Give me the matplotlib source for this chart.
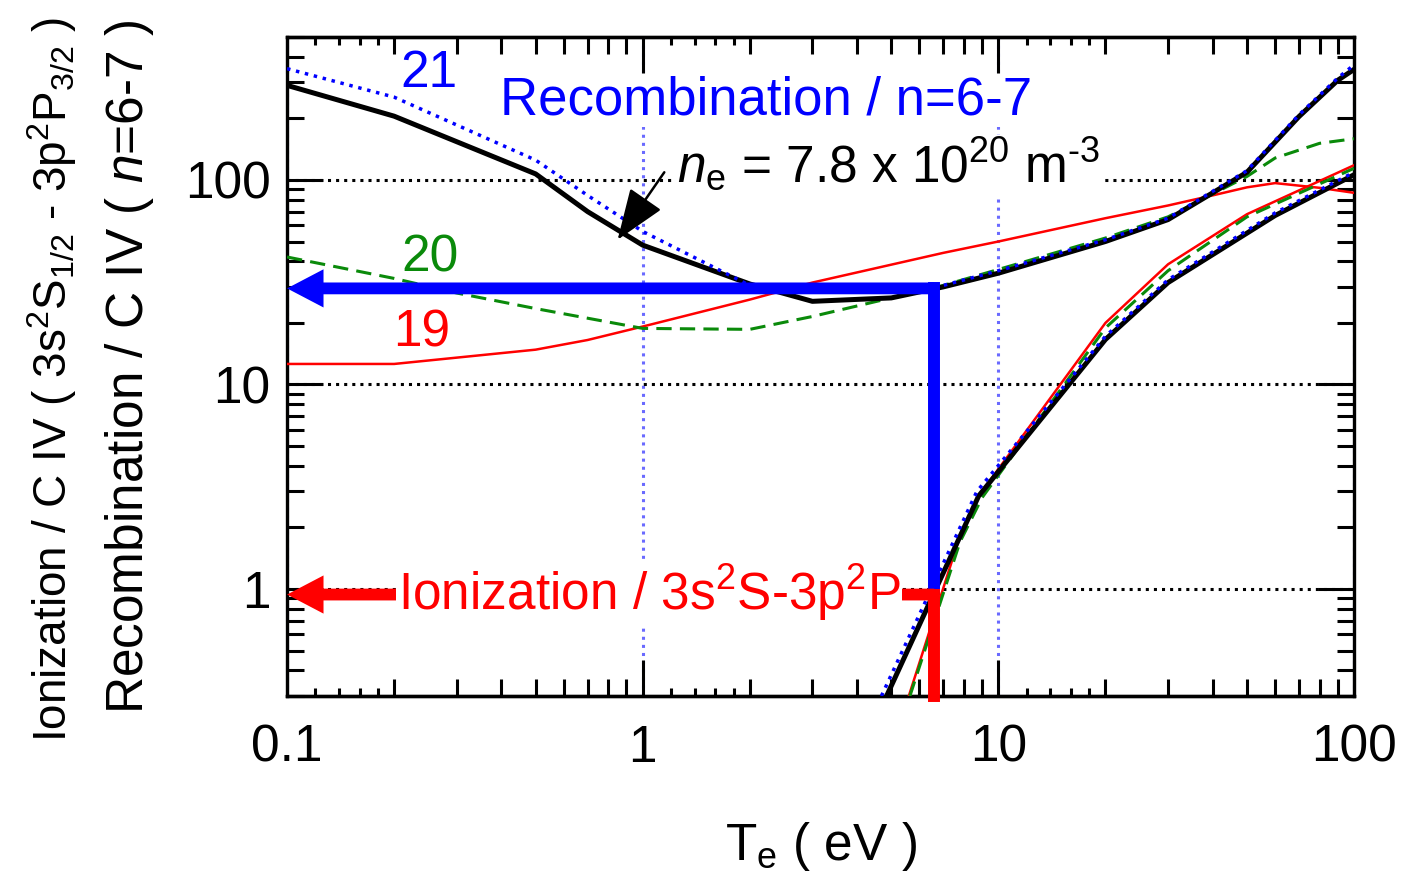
import matplotlib
matplotlib.use('Agg')
import matplotlib.pyplot as plt
from matplotlib.patches import FancyArrowPatch
from matplotlib.ticker import NullFormatter, NullLocator

plt.rcParams['font.family'] = ['Liberation Sans', 'DejaVu Sans']
plt.rcParams['mathtext.fontset'] = 'custom'
plt.rcParams['mathtext.rm'] = 'Liberation Sans'
plt.rcParams['mathtext.it'] = 'Liberation Sans:italic'

# Recombination / n=6-7 (upper set of curves)
te_rec_total = [0.1, 0.2, 0.5, 0.7, 1, 2, 3, 5, 7, 10, 20, 30, 50, 70, 90, 100]
rec_total = [290, 205, 107, 70, 48, 31, 25.5, 26.5, 30, 35, 50, 64, 109, 204, 307, 347]
te_rec_21 = [0.1, 0.2, 0.5, 0.7, 1, 2, 3, 5, 7, 10, 20, 30, 50, 70, 90, 100]
rec_21 = [350, 254, 125, 84, 56, 30.5, 29.5, 29.5, 30.5, 36, 51, 65, 111, 208, 315, 365]
te_rec_20 = [0.1, 0.2, 0.3, 0.5, 1, 2, 3, 5, 7, 10, 20, 30, 50, 60, 80, 100]
rec_20 = [42, 33, 28, 23.5, 18.8, 18.6, 21.5, 26.5, 30.5, 36.5, 52, 66, 104, 128, 151, 159]
te_rec_19 = [0.1, 0.2, 0.5, 0.7, 1, 2, 3, 7, 10, 20, 30, 40, 50, 60, 80, 100]
rec_19 = [12.6, 12.6, 14.8, 16.5, 19.2, 26, 31.5, 44, 50, 65, 75, 84, 92, 96.5, 91.5, 86.5]

# Ionization / 3s2S-3p2P (steep set of curves)
te_ion_total = [4.85, 8.8, 20, 30, 60, 100]
ion_total = [0.3, 2.85, 16.6, 31.5, 67, 106]
te_ion_21 = [4.69, 8.7, 20, 30, 60, 100]
ion_21 = [0.3, 3.0, 17.2, 32.5, 69, 109]
te_ion_20 = [5.64, 7.8, 9.0, 20, 30, 50, 100]
ion_20 = [0.3, 1.7, 2.8, 18.9, 36, 66, 114]
te_ion_19 = [5.6, 7.8, 8.8, 20, 30, 50, 100]
ion_19 = [0.3, 1.82, 2.85, 20, 38.7, 68, 118]

# read-off arrows
te_cross = 6.6
rec_level = 29.5
ion_level = 0.94
te_min, te_max = 0.1, 100
y_min, y_max = 0.3, 500

x_ticks = [0.1, 1, 10, 100]
x_labels = ['0.1', '1', '10', '100']
y_ticks = [1, 10, 100]
y_labels = ['1', '10', '100']
sub_ticks = [0.12, 0.14, 0.16, 0.18, 1.2, 1.4, 1.6, 1.8, 12, 14, 16, 18]

fig = plt.figure(figsize=(14.03, 8.80), dpi=100)
ax = fig.add_axes([0.2046, 0.2091, 0.7605, 0.7489])
ax.set_xscale('log')
ax.set_yscale('log')
ax.set_xlim(te_min, te_max)
ax.set_ylim(y_min, y_max)

# curves
for te, v in [(te_rec_19, rec_19), (te_ion_19, ion_19)]:
    ax.plot(te, v, color='#ff0000', lw=1.8, zorder=3)
for te, v in [(te_rec_20, rec_20), (te_ion_20, ion_20)]:
    ax.plot(te, v, color='#0a8a0a', lw=2.2, ls=(0, (5, 2.7)), zorder=3)
for te, v in [(te_rec_total, rec_total), (te_ion_total, ion_total)]:
    ax.plot(te, v, color='black', lw=3.6, zorder=4)
for te, v in [(te_rec_21, rec_21), (te_ion_21, ion_21)]:
    ax.plot(te, v, color='#0000ff', lw=2.5, ls=':', zorder=4.5)

# grid
ax.yaxis.grid(True, which='major', color='black', ls=':', lw=2.2)
ax.xaxis.grid(True, which='major', color='#6a6aff', ls=':', lw=2.2)
ax.set_axisbelow(True)

# ticks
ax.set_xticks(x_ticks, x_labels)
ax.set_yticks(y_ticks, y_labels)
ax.xaxis.set_minor_formatter(NullFormatter())
ax.yaxis.set_minor_formatter(NullFormatter())
ax.tick_params(which='both', direction='in', top=True, right=True, width=2.2,
               labelsize=37)
ax.tick_params(which='major', length=26)
ax.tick_params(which='minor', length=12)
ax.tick_params(axis='x', pad=20)
ax.tick_params(axis='y', pad=12)
for sp in ax.spines.values():
    sp.set_linewidth(2.4)

for loc in ['bottom', 'top']:
    sec = ax.secondary_xaxis(loc)
    sec.set_xticks(sub_ticks)
    sec.xaxis.set_minor_locator(NullLocator())
    sec.xaxis.set_major_formatter(NullFormatter())
    sec.tick_params(direction='in', length=6, width=2.2)
    sec.spines[loc].set_linewidth(2.4)

# blue: recombination read-off
blue_arrow = FancyArrowPatch((te_cross, rec_level), (te_min, rec_level),
                             arrowstyle='simple,head_length=1.05,head_width=1.1,tail_width=0.34',
                             mutation_scale=25, color='#0000ff', lw=0,
                             shrinkA=0, shrinkB=0, zorder=6)
ax.add_patch(blue_arrow)
ax.plot([te_cross, te_cross], [rec_level, 1.0], color='#0000ff', lw=8.6,
        solid_capstyle='projecting', zorder=6)

# red: ionization read-off
red_arrow = FancyArrowPatch((te_cross, ion_level), (te_min, ion_level),
                            arrowstyle='simple,head_length=1.05,head_width=1.1,tail_width=0.34',
                            mutation_scale=25, color='#ff0000', lw=0,
                            shrinkA=0, shrinkB=0, zorder=6)
ax.add_patch(red_arrow)
ax.plot([te_cross, te_cross], [ion_level, y_min], color='#ff0000', lw=8.6,
        solid_capstyle='projecting', zorder=6, clip_on=False)

# labels inside
white = dict(facecolor='white', edgecolor='none', pad=1)
ax.text(0.133, 0.945, '21', color='#0000ff', fontsize=37, ha='center', va='center',
        transform=ax.transAxes)
ax.text(0.134, 0.665, '20', color='#0a8a0a', fontsize=37, ha='center', va='center',
        transform=ax.transAxes)
ax.text(0.1265, 0.551, '19', color='#ff0000', fontsize=37, ha='center', va='center',
        transform=ax.transAxes)
ax.text(0.2, 0.904, 'Recombination / n=6-7', color='#0000ff', fontsize=38,
        ha='left', va='center', transform=ax.transAxes, bbox=white, zorder=7)
ax.text(0.3655, 0.7785, r'$\it{n}_{\rm e}$ = 7.8 x 10$^{20}$ m$^{\text{-3}}$',
        color='black', fontsize=37, ha='left', va='baseline', transform=ax.transAxes,
        bbox=white, zorder=7)
ax.text(0.104, 0.1305, r'Ionization / 3s$^2$S-3p$^2$P', color='#ff0000', fontsize=37,
        ha='left', va='baseline', transform=ax.transAxes, bbox=white, zorder=7)
ax.annotate('', xy=(0.85, 51), xytext=(1.15, 109),
            arrowprops=dict(arrowstyle='-|>,head_length=1.6,head_width=0.6',
                            mutation_scale=20, color='black', lw=1.8,
                            shrinkA=0, shrinkB=0),
            zorder=8)

ax.set_xlabel(r'T$_{\rm e}$ ( eV )', fontsize=37, labelpad=34)

fig.text(52 / 1403, 1 - 380 / 880,
         r'Ionization / C IV ( 3s$^2$S$_{1/2}$ - 3p$^2$P$_{3/2}$ )',
         rotation=90, ha='center', va='center', fontsize=33)
fig.text(130 / 1403, 1 - 367 / 880,
         r'Recombination / C IV ( $\it{n}$=6-7 )',
         rotation=90, ha='center', va='center', fontsize=37)

fig.savefig('out.png', dpi=100)
